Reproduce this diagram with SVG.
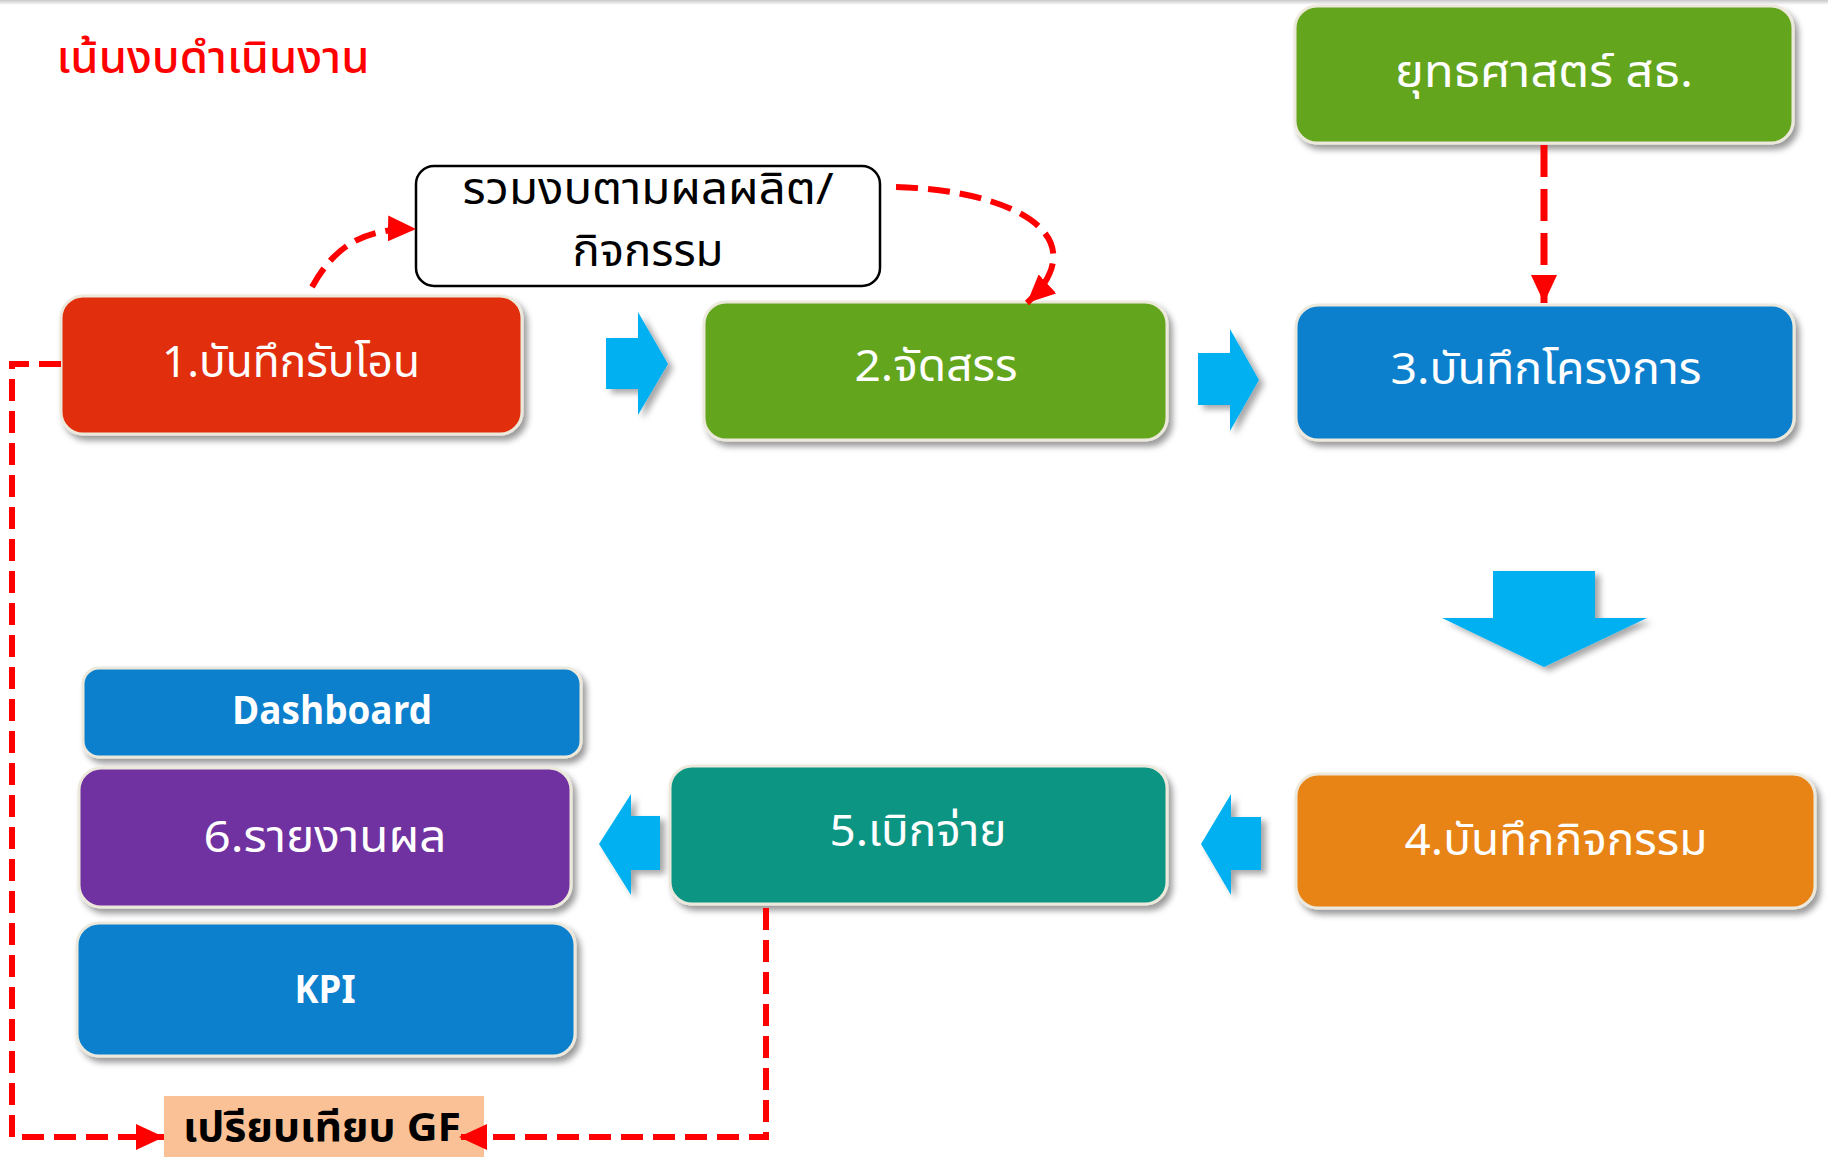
<svg xmlns="http://www.w3.org/2000/svg" width="1828" height="1157" viewBox="0 0 1828 1157">
<defs>
<style>
.t{font-family:"Noto Sans Thai","Noto Sans","DejaVu Sans",sans-serif;font-size:44px;fill:#fff;text-anchor:middle;}
.node{stroke:#ECE9DC;stroke-width:3;filter:url(#sh);}
.barrow{fill:#00B0F0;filter:url(#sh2);}
.dash{fill:none;stroke:#FF0000;stroke-width:6;stroke-dasharray:22 10;}
</style>
<filter id="sh" x="-10%" y="-10%" width="130%" height="140%">
<feDropShadow dx="4" dy="5" stdDeviation="3" flood-color="#000" flood-opacity="0.4"/>
</filter>
<filter id="sh2" x="-20%" y="-20%" width="150%" height="150%">
<feDropShadow dx="5" dy="4" stdDeviation="3" flood-color="#000" flood-opacity="0.35"/>
</filter>
<marker id="ah" markerUnits="userSpaceOnUse" markerWidth="30" markerHeight="26" refX="28" refY="13" orient="auto">
<path d="M0,0 L28,13 L0,26 z" fill="#FF0000"/>
</marker>
<linearGradient id="topg" x1="0" y1="0" x2="0" y2="1">
<stop offset="0" stop-color="#C8C8C8"/>
<stop offset="1" stop-color="#FFFFFF"/>
</linearGradient>
</defs>
<rect x="0" y="0" width="1828" height="1157" fill="#FFFFFF"/>
<rect x="0" y="0" width="1828" height="5" fill="url(#topg)"/>

<g id="title">
<text class="t" x="213" y="73" style="fill:#FF0000;font-weight:500" textLength="313" lengthAdjust="spacingAndGlyphs">เน้นงบดำเนินงาน</text>
</g>

<g id="node-summary">
<rect x="416" y="166" width="464" height="120" rx="18" fill="#FFFFFF" stroke="#000" stroke-width="2.5"/>
<text class="t" x="648" y="204" style="fill:#000" textLength="371" lengthAdjust="spacingAndGlyphs">รวมงบตามผลผลิต/</text>
<text class="t" x="648" y="266" style="fill:#000" textLength="151" lengthAdjust="spacingAndGlyphs">กิจกรรม</text>
</g>

<g id="node-strategy">
<rect class="node" x="1295" y="6" width="498" height="137" rx="22" fill="#64A51D"/>
<text class="t" x="1544" y="87" textLength="298" lengthAdjust="spacingAndGlyphs">ยุทธศาสตร์ สธ.</text>
</g>

<g id="node-1">
<rect class="node" x="61" y="296" width="461" height="138" rx="22" fill="#E12F08"/>
<text class="t" x="291" y="377" textLength="258" lengthAdjust="spacingAndGlyphs">1.บันทึกรับโอน</text>
</g>

<g id="node-2">
<rect class="node" x="704" y="302" width="463" height="138" rx="22" fill="#64A51D"/>
<text class="t" x="936" y="381" textLength="163" lengthAdjust="spacingAndGlyphs">2.จัดสรร</text>
</g>

<g id="node-3">
<rect class="node" x="1296" y="305" width="498" height="135" rx="22" fill="#0A80CD"/>
<text class="t" x="1546" y="384" textLength="311" lengthAdjust="spacingAndGlyphs">3.บันทึกโครงการ</text>
</g>

<g id="node-4">
<rect class="node" x="1296" y="774" width="519" height="134" rx="22" fill="#E88314"/>
<text class="t" x="1556" y="855" textLength="303" lengthAdjust="spacingAndGlyphs">4.บันทึกกิจกรรม</text>
</g>

<g id="node-5">
<rect class="node" x="670" y="766" width="497" height="138" rx="22" fill="#0E9583"/>
<text class="t" x="918" y="846" textLength="177" lengthAdjust="spacingAndGlyphs">5.เบิกจ่าย</text>
</g>

<g id="node-dashboard">
<rect class="node" x="83" y="668" width="498" height="89" rx="16" fill="#0A80CD"/>
<text class="t" x="332" y="724" style="font-weight:bold;font-size:40px" textLength="200" lengthAdjust="spacingAndGlyphs">Dashboard</text>
</g>

<g id="node-6">
<rect class="node" x="79" y="768" width="492" height="139" rx="22" fill="#7030A0"/>
<text class="t" x="325" y="852" textLength="243" lengthAdjust="spacingAndGlyphs">6.รายงานผล</text>
</g>

<g id="node-kpi">
<rect class="node" x="77" y="923" width="498" height="133" rx="22" fill="#0A80CD"/>
<text class="t" x="325" y="1003" style="font-weight:bold;font-size:40px" textLength="61" lengthAdjust="spacingAndGlyphs">KPI</text>
</g>

<g id="node-gf">
<rect x="164" y="1096" width="320" height="61" fill="#F9C195"/>
<text class="t" x="322" y="1141" style="fill:#000;font-weight:bold;font-size:40px" textLength="278" lengthAdjust="spacingAndGlyphs">เปรียบเทียบ GF</text>
</g>

<g id="connectors">
<polygon class="barrow" points="606,338 638,338 638,312 668,364 638,415 638,389 606,389"/>
<polygon class="barrow" points="1198,353 1230,353 1230,329 1259,380 1230,431 1230,405 1198,405"/>
<polygon class="barrow" points="1493,571 1595,571 1595,618 1647,618 1544,667 1442,618 1493,618"/>
<polygon class="barrow" points="1261,817 1231,817 1231,794 1201,844 1231,895 1231,870 1261,870"/>
<polygon class="barrow" points="660,816 631,816 631,794 599,844 631,895 631,870 660,870"/>
<path class="dash" d="M312,287 C335,245 365,228 416,229" marker-end="url(#ah)"/>
<path class="dash" d="M896,187 C1010,190 1100,235 1027,303" marker-end="url(#ah)"/>
<path class="dash" d="M1544,145 V303" style="stroke-width:7;stroke-dasharray:32 12" marker-end="url(#ah)"/>
<path class="dash" d="M61,364 H12 V1137 H164" marker-end="url(#ah)"/>
<path class="dash" d="M766,908 V1137 H459" marker-end="url(#ah)"/>
</g>
</svg>
